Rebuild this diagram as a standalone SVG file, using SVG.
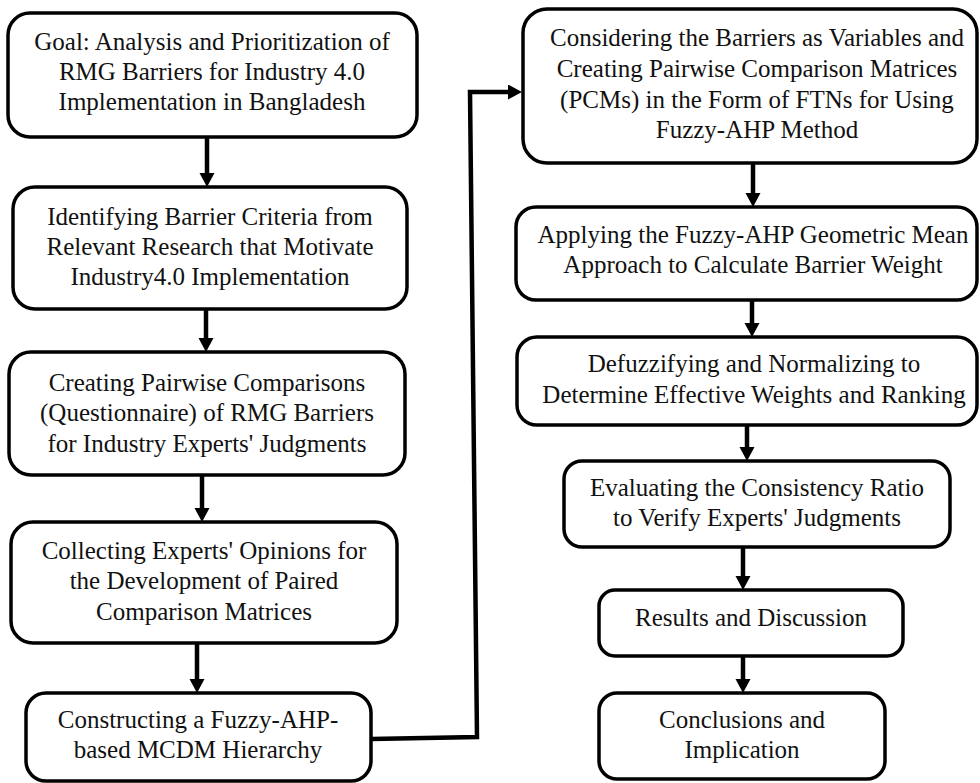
<svg xmlns="http://www.w3.org/2000/svg" width="980" height="783" viewBox="0 0 980 783">
<style>
.box{fill:#fff;stroke:#000;stroke-width:3.5}
.t{font-family:"Liberation Serif","Times New Roman",serif;font-size:25px;fill:#111;text-anchor:middle}
.c{fill:none;stroke:#000;stroke-width:4.5}
</style>
<defs>
<marker id="ah" markerUnits="userSpaceOnUse" markerWidth="16" markerHeight="16" refX="2" refY="7.5" orient="auto">
<path d="M0,0 L14,7.5 L0,15 z" fill="#000"/>
</marker>
</defs>
<rect width="980" height="783" fill="#fff"/>
<g id="connectors">
<line class="c" x1="207" y1="137" x2="207" y2="175" marker-end="url(#ah)"/>
<line class="c" x1="206" y1="309" x2="206" y2="340" marker-end="url(#ah)"/>
<line class="c" x1="202" y1="475" x2="202" y2="510" marker-end="url(#ah)"/>
<line class="c" x1="197" y1="643" x2="197" y2="681" marker-end="url(#ah)"/>
<polyline class="c" points="371,739 477,737 470,92 510,92" marker-end="url(#ah)"/>
<line class="c" x1="753" y1="163" x2="753" y2="195" marker-end="url(#ah)"/>
<line class="c" x1="752" y1="300" x2="752" y2="325" marker-end="url(#ah)"/>
<line class="c" x1="747" y1="425" x2="747" y2="449" marker-end="url(#ah)"/>
<line class="c" x1="743" y1="547" x2="743" y2="578" marker-end="url(#ah)"/>
<line class="c" x1="743" y1="656" x2="743" y2="681" marker-end="url(#ah)"/>
</g>
<g id="n1">
<rect class="box" x="8" y="13" width="409" height="124" rx="22"/>
<text class="t" x="212" y="50">Goal: Analysis and Prioritization of</text>
<text class="t" x="212" y="80">RMG Barriers for Industry 4.0</text>
<text class="t" x="212" y="110">Implementation in Bangladesh</text>
</g>
<g id="n2">
<rect class="box" x="13" y="187" width="394" height="122" rx="22"/>
<text class="t" x="210" y="225">Identifying Barrier Criteria from</text>
<text class="t" x="210" y="255">Relevant Research that Motivate</text>
<text class="t" x="210" y="285">Industry4.0 Implementation</text>
</g>
<g id="n3">
<rect class="box" x="9" y="352" width="396" height="123" rx="22"/>
<text class="t" x="207" y="391">Creating Pairwise Comparisons</text>
<text class="t" x="207" y="421">(Questionnaire) of RMG Barriers</text>
<text class="t" x="207" y="452">for Industry Experts' Judgments</text>
</g>
<g id="n4">
<rect class="box" x="11" y="522" width="386" height="121" rx="22"/>
<text class="t" x="204" y="559">Collecting Experts' Opinions for</text>
<text class="t" x="204" y="589">the Development of Paired</text>
<text class="t" x="204" y="620">Comparison Matrices</text>
</g>
<g id="n5">
<rect class="box" x="26" y="693" width="345" height="88" rx="20"/>
<text class="t" x="198" y="728">Constructing a Fuzzy-AHP-</text>
<text class="t" x="198" y="758">based MCDM Hierarchy</text>
</g>
<g id="n6">
<rect class="box" x="523" y="9" width="454" height="154" rx="24"/>
<text class="t" x="757" y="46">Considering the Barriers as Variables and</text>
<text class="t" x="757" y="77">Creating Pairwise Comparison Matrices</text>
<text class="t" x="757" y="108">(PCMs) in the Form of FTNs for Using</text>
<text class="t" x="757" y="138">Fuzzy-AHP Method</text>
</g>
<g id="n7">
<rect class="box" x="516" y="207" width="461" height="93" rx="20"/>
<text class="t" x="753" y="243">Applying the Fuzzy-AHP Geometric Mean</text>
<text class="t" x="753" y="273">Approach to Calculate Barrier Weight</text>
</g>
<g id="n8">
<rect class="box" x="517" y="337" width="460" height="88" rx="20"/>
<text class="t" x="754" y="372">Defuzzifying and Normalizing to</text>
<text class="t" x="754" y="403">Determine Effective Weights and Ranking</text>
</g>
<g id="n9">
<rect class="box" x="564" y="461" width="386" height="86" rx="18"/>
<text class="t" x="757" y="496">Evaluating the Consistency Ratio</text>
<text class="t" x="757" y="526">to Verify Experts' Judgments</text>
</g>
<g id="n10">
<rect class="box" x="599" y="590" width="304" height="66" rx="16"/>
<text class="t" x="751" y="626">Results and Discussion</text>
</g>
<g id="n11">
<rect class="box" x="599" y="693" width="286" height="86" rx="18"/>
<text class="t" x="742" y="728">Conclusions and</text>
<text class="t" x="742" y="758">Implication</text>
</g>
</svg>
